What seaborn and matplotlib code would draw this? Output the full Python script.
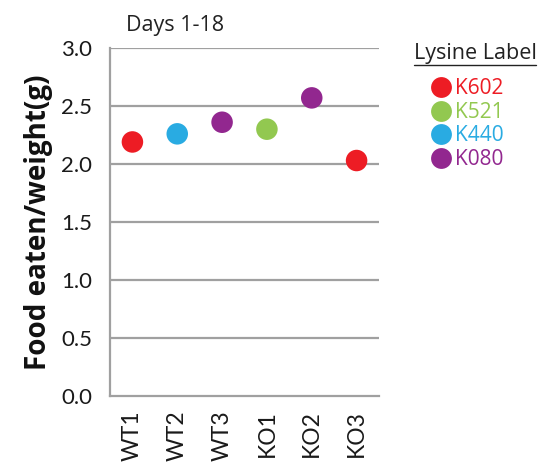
import matplotlib
matplotlib.use("Agg")
import matplotlib.pyplot as plt
from matplotlib.lines import Line2D
import seaborn as sns
import pandas as pd

# Data
samples = ["WT1", "WT2", "WT3", "KO1", "KO2", "KO3"]
food_per_weight = [2.19, 2.26, 2.36, 2.30, 2.57, 2.03]
lysine_label = ["K602", "K440", "K080", "K521", "K080", "K602"]
label_order = ["K602", "K521", "K440", "K080"]
label_colors = ["#ED1C24", "#92C850", "#29ABE2", "#92278F"]
y_ticks = [0.0, 0.5, 1.0, 1.5, 2.0, 2.5, 3.0]

df = pd.DataFrame({"sample": samples, "value": food_per_weight, "label": lysine_label})
palette = dict(zip(label_order, label_colors))

sns.set_style("white")
plt.rcParams["font.family"] = ["Open Sans", "DejaVu Sans"]

fig = plt.figure(figsize=(5.4, 4.62), dpi=100)
ax = fig.add_axes([110 / 540, 1 - 396 / 462, 269 / 540, 348 / 462])

sns.scatterplot(data=df, x="sample", y="value", hue="label", hue_order=label_order,
                palette=palette, s=240, edgecolor="none", ax=ax, zorder=3, legend=False)

grid_c = "#A0A0A0"
tick_font = ["Lato", "DejaVu Sans"]
ax.set_xlim(-0.5, len(samples) - 0.5)
ax.set_ylim(0, 3.0)
ax.set_yticks(y_ticks)
ax.set_yticklabels([f"{v:.1f}" for v in y_ticks], fontsize=16, family=tick_font)
for v in y_ticks[1:]:
    ax.axhline(v, color=grid_c, lw=1.6, zorder=1)

ax.set_xticks(range(len(samples)))
ax.set_xticklabels(samples, rotation=90, fontsize=16.5, family=tick_font)
ax.set_xticks([i - 0.5 for i in range(len(samples) + 1)], minor=True)
ax.tick_params(axis="x", which="major", length=0, pad=10)
ax.tick_params(axis="x", which="minor", length=8, width=1.6, color=grid_c, direction="out")
ax.tick_params(axis="y", length=8, width=1.6, color=grid_c, direction="out", pad=5)
ax.tick_params(axis="both", which="major", labelcolor="#1a1a1a")

for side in ("top", "right"):
    ax.spines[side].set_visible(False)
for side in ("left", "bottom"):
    ax.spines[side].set_color(grid_c)
    ax.spines[side].set_linewidth(1.6)

ax.set_xlabel("")
ax.set_ylabel("Food eaten/weight(g)", fontsize=20, fontweight="bold", labelpad=6,
              color="#111111")

ax.text(175 / 540, 1 - 25 / 462, "Days 1-18", transform=fig.transFigure, ha="center",
        va="center", fontsize=15.5, color="#222222")

# Legend: colored markers with matching text
handles = [Line2D([0], [0], marker="o", ls="", markersize=15, markerfacecolor=c,
                  markeredgecolor="none") for c in label_colors]
leg = fig.legend(handles, label_order, loc="upper left", bbox_to_anchor=(422 / 540, 1 - 70 / 462),
                 frameon=False, fontsize=15, handletextpad=0.2, labelspacing=0.12,
                 borderaxespad=0, handlelength=1.0)
for t, c in zip(leg.get_texts(), label_colors):
    t.set_color(c)

title = fig.text(475 / 540, 1 - 54 / 462, "Lysine Label", ha="center", va="center",
                 fontsize=15.5, color="#222222")
fig.canvas.draw()
bb = title.get_window_extent().transformed(fig.transFigure.inverted())
fig.add_artist(Line2D([bb.x0, bb.x1], [bb.y0 - 0.002, bb.y0 - 0.002], color="#222222",
                      lw=1.0, transform=fig.transFigure))

fig.savefig("out.png", dpi=100)
